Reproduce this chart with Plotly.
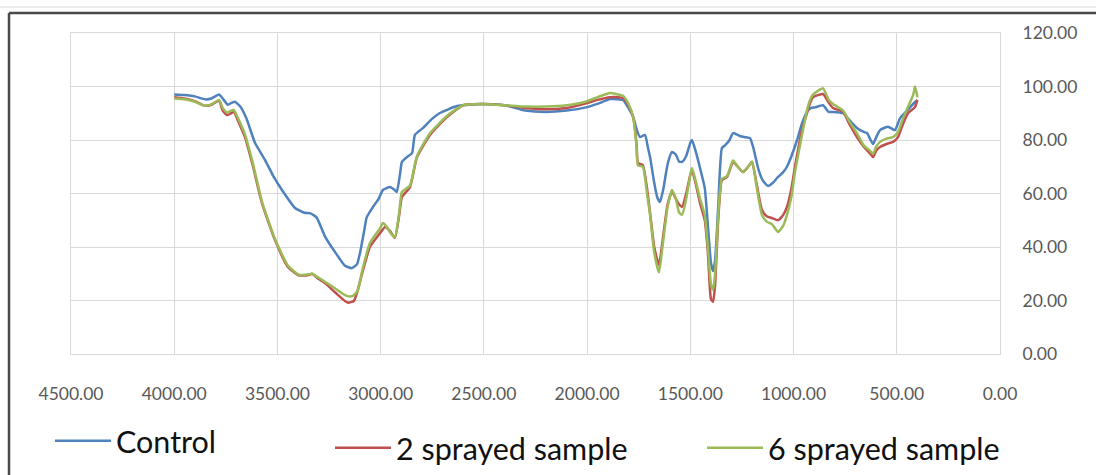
import plotly.graph_objects as go

# ---------------- data ----------------
wn_control = [4000, 3950, 3900, 3851, 3820, 3783, 3760, 3740, 3720, 3706, 3680, 3650, 3609, 3560, 3520,
              3478, 3415, 3370, 3340, 3310, 3270, 3220, 3173, 3140, 3115, 3100, 3080, 3068, 3037, 3010,
              2989, 2955, 2935, 2922, 2905, 2897, 2873, 2848, 2834, 2795, 2750, 2713, 2630, 2560, 2500,
              2400, 2300, 2200, 2100, 2000, 1950, 1889, 1850, 1826, 1800, 1777, 1760, 1744, 1720, 1705,
              1695, 1675, 1660, 1647, 1630, 1610, 1589, 1570, 1555, 1540, 1520, 1500, 1492, 1475, 1453,
              1430, 1415, 1400, 1390, 1380, 1365, 1347, 1332, 1310, 1293, 1260, 1230, 1211, 1196, 1170,
              1150, 1124, 1100, 1080, 1050, 1032, 1010, 983, 960, 935, 915, 896, 857, 830, 809,
              760, 730, 693, 660, 644, 630, 615, 600, 581, 542, 509, 484, 450, 412, 400]
t_control = [97.0, 96.8, 96.3, 95.2, 95.5, 97.0, 95.0, 93.2, 94.0, 94.3, 92.5, 88.0, 79.0, 72.5, 66.5,
             61.3, 54.6, 52.8, 52.6, 51.0, 44.0, 38.0, 33.0, 32.1, 33.5, 37.8, 46.0, 51.0, 55.0, 58.0,
             61.3, 62.4, 61.5, 60.6, 68.0, 71.8, 73.6, 75.1, 81.9, 84.5, 88.0, 90.1, 92.7, 93.3, 93.5,
             93.0, 91.0, 90.5, 91.0, 92.3, 93.5, 95.3, 95.2, 95.0, 92.0, 88.6, 84.0, 81.1, 81.9, 77.0,
             73.6, 64.0, 58.5, 56.8, 62.0, 71.0, 75.5, 74.5, 72.0, 71.8, 74.0, 79.0, 80.0, 76.0, 69.5,
             62.0, 48.0, 34.0, 31.0, 35.0, 55.0, 77.0, 78.0, 80.0, 82.6, 81.5, 81.0, 80.7, 77.4, 69.0,
             65.0, 62.8, 64.0, 65.8, 68.0, 70.0, 74.0, 80.0, 86.0, 90.5, 92.0, 92.2, 93.0, 90.5, 90.5,
             90.0, 87.5, 84.5, 83.0, 82.6, 80.5, 78.5, 81.0, 83.7, 85.0, 83.7, 88.2, 91.0, 94.2, 95.0]

wn_2spray = [4000, 3950, 3900, 3851, 3820, 3783, 3765, 3744, 3725, 3711, 3690, 3657, 3618, 3575, 3512,
             3449, 3400, 3381, 3345, 3333, 3300, 3270, 3220, 3173, 3158, 3130, 3115, 3090, 3052, 3003,
             2979, 2955, 2931, 2910, 2897, 2858, 2824, 2761, 2679, 2601, 2519, 2400, 2300, 2200, 2100,
             2000, 1950, 1889, 1850, 1826, 1800, 1777, 1760, 1754, 1730, 1710, 1695, 1675, 1652, 1635,
             1610, 1589, 1570, 1555, 1540, 1520, 1500, 1492, 1475, 1453, 1430, 1415, 1400, 1390, 1380,
             1365, 1347, 1322, 1293, 1270, 1245, 1220, 1201, 1180, 1153, 1130, 1104, 1075, 1050, 1032,
             1010, 993, 959, 935, 920, 906, 857, 830, 809, 760, 730, 693, 660, 630, 615,
             600, 581, 550, 518, 494, 470, 446, 412, 400]
t_2spray = [96.0, 95.5, 94.5, 92.8, 93.2, 94.7, 91.0, 89.3, 90.0, 90.5, 87.0, 81.0, 70.0, 56.4, 42.6,
            32.5, 29.5, 29.3, 29.6, 30.0, 28.0, 26.5, 23.0, 19.8, 19.2, 19.8, 22.8, 30.0, 40.0, 45.2,
            47.5, 46.0, 43.4, 52.0, 58.7, 62.4, 73.6, 81.9, 88.6, 93.0, 93.5, 93.0, 92.0, 91.5, 92.0,
            93.8, 95.0, 96.0, 96.0, 95.7, 93.0, 88.6, 78.0, 71.4, 70.6, 62.0, 52.7, 40.0, 33.3, 42.0,
            56.0, 60.6, 58.0, 56.0, 55.0, 60.0, 67.0, 68.8, 64.0, 56.4, 50.0, 38.0, 20.5, 19.5, 26.0,
            50.0, 65.0, 66.2, 71.8, 70.0, 68.0, 70.0, 71.8, 64.0, 53.8, 51.5, 50.8, 50.0, 52.0, 55.0,
            62.0, 70.0, 83.7, 90.0, 93.8, 96.0, 97.2, 94.0, 92.0, 90.5, 86.0, 81.1, 77.5, 75.0, 73.6,
            76.0, 77.4, 78.5, 79.3, 81.1, 86.0, 90.0, 92.3, 95.0]

wn_6spray = [4000, 3950, 3900, 3851, 3820, 3783, 3765, 3744, 3725, 3711, 3690, 3657, 3618, 3575, 3512,
             3449, 3400, 3381, 3345, 3333, 3300, 3270, 3220, 3173, 3150, 3130, 3110, 3090, 3052, 3003,
             2989, 2970, 2950, 2931, 2910, 2897, 2858, 2824, 2761, 2679, 2601, 2519, 2400, 2300, 2200,
             2100, 2000, 1950, 1889, 1850, 1826, 1800, 1777, 1760, 1754, 1730, 1710, 1695, 1675, 1652,
             1635, 1610, 1589, 1570, 1555, 1540, 1520, 1500, 1492, 1475, 1453, 1430, 1415, 1400, 1390,
             1380, 1365, 1347, 1322, 1293, 1270, 1245, 1220, 1201, 1180, 1153, 1130, 1104, 1075, 1050,
             1032, 1010, 993, 959, 935, 920, 906, 857, 830, 809, 760, 730, 693, 660, 630,
             615, 600, 581, 550, 518, 494, 470, 446, 420, 412, 405, 400]
t_6spray = [95.5, 95.2, 94.3, 92.8, 93.3, 95.0, 92.0, 90.3, 91.0, 91.2, 88.0, 82.0, 71.0, 57.0, 43.0,
            33.0, 29.8, 29.5, 29.8, 30.0, 28.5, 27.0, 24.5, 22.0, 21.5, 22.0, 24.0, 31.0, 41.5, 47.0,
            49.0, 47.5, 45.0, 43.7, 53.0, 60.6, 63.0, 74.0, 82.5, 89.0, 93.0, 93.5, 93.0, 92.5, 92.5,
            93.0, 94.5, 96.0, 97.6, 97.0, 96.5, 93.5, 88.6, 77.0, 70.6, 70.0, 60.0, 52.0, 38.0, 30.5,
            40.0, 55.0, 61.3, 58.0, 53.0, 52.0, 58.0, 67.0, 69.5, 65.0, 58.0, 52.0, 40.0, 26.0, 24.0,
            30.0, 52.0, 65.5, 66.5, 72.3, 70.0, 68.0, 70.0, 72.0, 63.0, 52.0, 49.5, 48.5, 45.6, 48.0,
            52.0, 59.0, 68.0, 82.0, 91.0, 95.0, 97.0, 99.3, 95.0, 93.5, 91.0, 87.0, 82.5, 78.0, 76.0,
            74.8, 77.5, 79.3, 80.5, 81.1, 83.0, 88.0, 92.3, 97.0, 100.0, 98.0, 96.0]

series_names = ["Control", "2 sprayed sample", "6 sprayed sample"]
series_colors = ["#4F81BD", "#C0504D", "#9BBB59"]
x_ticks = [4500, 4000, 3500, 3000, 2500, 2000, 1500, 1000, 500, 0]
y_ticks = [0, 20, 40, 60, 80, 100, 120]

# ---------------- figure ----------------
W, H = 1096, 475
L, R, T, B = 71, 96, 33, 121
PW, PH = W - L - R, H - T - B


def px_x(p):
    return (p - L) / PW


def px_y(p):
    return (H - B - p) / PH


fig = go.Figure()
data = [(wn_control, t_control), (wn_2spray, t_2spray), (wn_6spray, t_6spray)]
legend_ids = ["legend", "legend2", "legend3"]
for (xs, ys), name, col, lg in zip(data, series_names, series_colors, legend_ids):
    fig.add_trace(go.Scatter(x=xs, y=ys, mode="lines", name=name, legend=lg,
                             line=dict(color=col, width=2.5, shape="spline", smoothing=0.5)))

tick_font = dict(family="Lato", size=17.5, color="#595959")
legend_font = dict(family="Lato", size=30.5, color="#111111")


def legend_cfg(xpx, ypx):
    return dict(x=px_x(xpx), y=px_y(ypx), xanchor="left", yanchor="middle",
                orientation="h", font=legend_font, bgcolor="rgba(0,0,0,0)",
                borderwidth=0, itemwidth=56, tracegroupgap=0)


fig.update_layout(
    width=W, height=H, autosize=False,
    margin=dict(l=L, r=R, t=T, b=B, pad=0, autoexpand=False),
    paper_bgcolor="white", plot_bgcolor="white",
    showlegend=True,
    legend=legend_cfg(50, 441),
    legend2=legend_cfg(330, 448),
    legend3=legend_cfg(702, 448),
    xaxis=dict(range=[4500, 0], tickvals=x_ticks, tickformat=".2f",
               showgrid=True, gridcolor="#d9d9d9", gridwidth=1,
               showline=True, mirror=True, linecolor="#d9d9d9", linewidth=1,
               zeroline=False, ticks="", tickfont=tick_font, ticklabelstandoff=24),
    yaxis=dict(range=[0, 120], tickvals=y_ticks, tickformat=".2f", side="right",
               showgrid=True, gridcolor="#d9d9d9", gridwidth=1,
               showline=True, mirror=True, linecolor="#d9d9d9", linewidth=1,
               zeroline=False, ticks="", tickfont=tick_font, ticklabelstandoff=18),
    shapes=[
        dict(type="line", xref="paper", yref="paper", x0=px_x(0), x1=px_x(W), y0=px_y(7), y1=px_y(7),
             line=dict(color="#e6e6e6", width=1.5)),
        dict(type="line", xref="paper", yref="paper", x0=px_x(9), x1=px_x(W), y0=px_y(13), y1=px_y(13),
             line=dict(color="#4a4a4a", width=2.5)),
        dict(type="line", xref="paper", yref="paper", x0=px_x(9), x1=px_x(9), y0=px_y(13), y1=px_y(H),
             line=dict(color="#4a4a4a", width=2.5)),
    ],
)

fig.write_html("out.html")
